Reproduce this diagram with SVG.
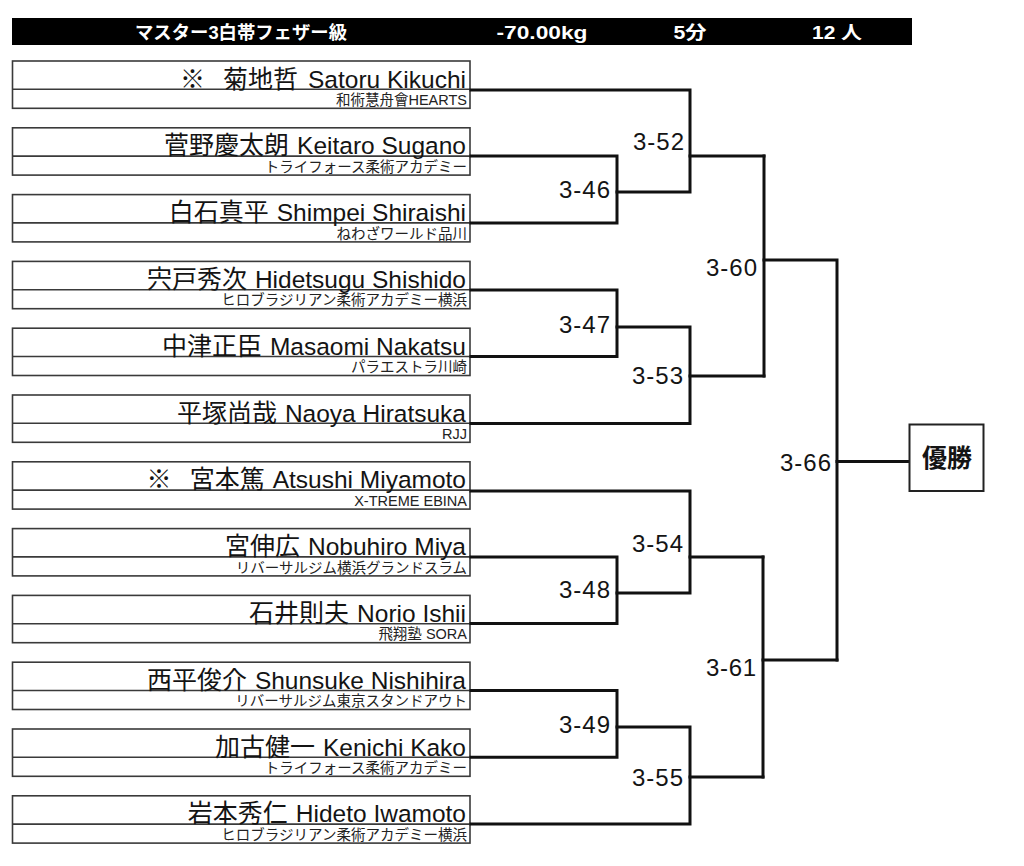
<svg xmlns="http://www.w3.org/2000/svg" width="1024" height="866" viewBox="0 0 1024 866">
<style>
.bg{fill:#ffffff}
.box{fill:#ffffff;stroke:#3a3a3a;stroke-width:1.6}
.div{stroke:#3a3a3a;stroke-width:1.6}
.nm{font-family:"Liberation Sans","Noto Sans CJK JP",sans-serif;font-size:24.5px;fill:#141414;text-anchor:end}
.cj{font-family:"Noto Sans CJK JP",sans-serif;font-size:25px}
.cl{font-family:"Liberation Sans","Noto Sans CJK JP",sans-serif;font-size:14.5px;fill:#222;text-anchor:end}
.hd{font-family:"Liberation Sans","Noto Sans CJK JP",sans-serif;font-size:18px;font-weight:bold;fill:#ffffff;text-anchor:middle}
.lb{font-family:"Liberation Sans","Noto Sans CJK JP",sans-serif;font-size:24px;fill:#141414;text-anchor:end}
.cn{fill:none;stroke:#111;stroke-width:3;stroke-linejoin:miter;stroke-linecap:square}
.win{fill:#ffffff;stroke:#222;stroke-width:2}
.wt{font-family:"Noto Sans CJK JP",sans-serif;font-size:25px;font-weight:bold;fill:#141414;text-anchor:middle}
</style>
<rect class="bg" x="0" y="0" width="1024" height="866"/>
<g id="header">
<rect x="12" y="18" width="900" height="27" fill="#000"/>
<text class="hd" x="241" y="39" textLength="212" lengthAdjust="spacingAndGlyphs">マスター3白帯フェザー級</text>
<text class="hd" x="542" y="39" textLength="91" lengthAdjust="spacingAndGlyphs">-70.00kg</text>
<text class="hd" x="690" y="39" textLength="33" lengthAdjust="spacingAndGlyphs">5分</text>
<text class="hd" x="837" y="39" textLength="50" lengthAdjust="spacingAndGlyphs">12 人</text>
</g>
<g id="p1" transform="translate(0,61)">
<rect class="box" x="12.5" y="0" width="457.5" height="47.3"/><line class="div" x1="12.5" y1="28.3" x2="470" y2="28.3"/>
<text class="nm" x="466" y="26.5"><tspan class="cj">※</tspan><tspan class="cj" dx="18">菊地哲</tspan><tspan dx="10">Satoru Kikuchi</tspan></text>
<text class="cl" x="467" y="44">和術慧舟會HEARTS</text>
</g>
<g id="p2" transform="translate(0,127.8)">
<rect class="box" x="12.5" y="0" width="457.5" height="47.3"/><line class="div" x1="12.5" y1="28.3" x2="470" y2="28.3"/>
<text class="nm" x="466" y="26.5"><tspan class="cj">菅野慶太朗</tspan><tspan dx="8">Keitaro Sugano</tspan></text>
<text class="cl" x="467" y="44">トライフォース柔術アカデミー</text>
</g>
<g id="p3" transform="translate(0,194.6)">
<rect class="box" x="12.5" y="0" width="457.5" height="47.3"/><line class="div" x1="12.5" y1="28.3" x2="470" y2="28.3"/>
<text class="nm" x="466" y="26.5"><tspan class="cj">白石真平</tspan><tspan dx="8">Shimpei Shiraishi</tspan></text>
<text class="cl" x="467" y="44">ねわざワールド品川</text>
</g>
<g id="p4" transform="translate(0,261.4)">
<rect class="box" x="12.5" y="0" width="457.5" height="47.3"/><line class="div" x1="12.5" y1="28.3" x2="470" y2="28.3"/>
<text class="nm" x="466" y="26.5"><tspan class="cj">宍戸秀次</tspan><tspan dx="8">Hidetsugu Shishido</tspan></text>
<text class="cl" x="467" y="44">ヒロブラジリアン柔術アカデミー横浜</text>
</g>
<g id="p5" transform="translate(0,328.2)">
<rect class="box" x="12.5" y="0" width="457.5" height="47.3"/><line class="div" x1="12.5" y1="28.3" x2="470" y2="28.3"/>
<text class="nm" x="466" y="26.5"><tspan class="cj">中津正臣</tspan><tspan dx="8">Masaomi Nakatsu</tspan></text>
<text class="cl" x="467" y="44">パラエストラ川崎</text>
</g>
<g id="p6" transform="translate(0,395)">
<rect class="box" x="12.5" y="0" width="457.5" height="47.3"/><line class="div" x1="12.5" y1="28.3" x2="470" y2="28.3"/>
<text class="nm" x="466" y="26.5"><tspan class="cj">平塚尚哉</tspan><tspan dx="8">Naoya Hiratsuka</tspan></text>
<text class="cl" x="467" y="44">RJJ</text>
</g>
<g id="p7" transform="translate(0,461.8)">
<rect class="box" x="12.5" y="0" width="457.5" height="47.3"/><line class="div" x1="12.5" y1="28.3" x2="470" y2="28.3"/>
<text class="nm" x="466" y="26.5"><tspan class="cj">※</tspan><tspan class="cj" dx="18">宮本篤</tspan><tspan dx="8">Atsushi Miyamoto</tspan></text>
<text class="cl" x="467" y="44">X-TREME EBINA</text>
</g>
<g id="p8" transform="translate(0,528.6)">
<rect class="box" x="12.5" y="0" width="457.5" height="47.3"/><line class="div" x1="12.5" y1="28.3" x2="470" y2="28.3"/>
<text class="nm" x="466" y="26.5"><tspan class="cj">宮伸広</tspan><tspan dx="8">Nobuhiro Miya</tspan></text>
<text class="cl" x="467" y="44">リバーサルジム横浜グランドスラム</text>
</g>
<g id="p9" transform="translate(0,595.4)">
<rect class="box" x="12.5" y="0" width="457.5" height="47.3"/><line class="div" x1="12.5" y1="28.3" x2="470" y2="28.3"/>
<text class="nm" x="466" y="26.5"><tspan class="cj">石井則夫</tspan><tspan dx="8">Norio Ishii</tspan></text>
<text class="cl" x="467" y="44">飛翔塾 SORA</text>
</g>
<g id="p10" transform="translate(0,662.2)">
<rect class="box" x="12.5" y="0" width="457.5" height="47.3"/><line class="div" x1="12.5" y1="28.3" x2="470" y2="28.3"/>
<text class="nm" x="466" y="26.5"><tspan class="cj">西平俊介</tspan><tspan dx="8">Shunsuke Nishihira</tspan></text>
<text class="cl" x="467" y="44">リバーサルジム東京スタンドアウト</text>
</g>
<g id="p11" transform="translate(0,729)">
<rect class="box" x="12.5" y="0" width="457.5" height="47.3"/><line class="div" x1="12.5" y1="28.3" x2="470" y2="28.3"/>
<text class="nm" x="466" y="26.5"><tspan class="cj">加古健一</tspan><tspan dx="8">Kenichi Kako</tspan></text>
<text class="cl" x="467" y="44">トライフォース柔術アカデミー</text>
</g>
<g id="p12" transform="translate(0,795.8)">
<rect class="box" x="12.5" y="0" width="457.5" height="47.3"/><line class="div" x1="12.5" y1="28.3" x2="470" y2="28.3"/>
<text class="nm" x="466" y="26.5"><tspan class="cj">岩本秀仁</tspan><tspan dx="8">Hideto Iwamoto</tspan></text>
<text class="cl" x="467" y="44">ヒロブラジリアン柔術アカデミー横浜</text>
</g>
<g id="connectors">
<path class="cn" d="M471 90 H690 V192 H617"/>
<path class="cn" d="M471 156 H617 V223 H471"/>
<path class="cn" d="M690 156 H764"/>
<path class="cn" d="M471 290 H617 V356.5 H471"/>
<path class="cn" d="M617 327 H690 V423.5 H471"/>
<path class="cn" d="M690 376 H764"/>
<path class="cn" d="M764 156 V376"/>
<path class="cn" d="M764 260 H837 V660"/>
<path class="cn" d="M837 461.5 H909"/>
<path class="cn" d="M471 491 H690 V593 H617"/>
<path class="cn" d="M471 557 H617 V623.5 H471"/>
<path class="cn" d="M690 557 H763"/>
<path class="cn" d="M763 557 V777"/>
<path class="cn" d="M763 660 H837"/>
<path class="cn" d="M471 690.5 H617 V757.3 H471"/>
<path class="cn" d="M617 727 H690 V824 H471"/>
<path class="cn" d="M690 777 H763"/>
</g>
<g id="labels">
<text class="lb" x="684" y="150" textLength="51">3-52</text>
<text class="lb" x="610" y="198" textLength="51">3-46</text>
<text class="lb" x="757" y="276" textLength="51">3-60</text>
<text class="lb" x="610" y="333" textLength="51">3-47</text>
<text class="lb" x="683" y="384" textLength="51">3-53</text>
<text class="lb" x="831" y="471" textLength="51">3-66</text>
<text class="lb" x="683" y="552" textLength="51">3-54</text>
<text class="lb" x="610" y="598" textLength="51">3-48</text>
<text class="lb" x="756" y="676" textLength="50">3-61</text>
<text class="lb" x="610" y="733" textLength="51">3-49</text>
<text class="lb" x="683" y="786" textLength="51">3-55</text>
</g>
<g id="winner">
<rect class="win" x="909.5" y="424.5" width="74" height="66.5"/>
<text class="wt" x="947" y="467">優勝</text>
</g>
</svg>
